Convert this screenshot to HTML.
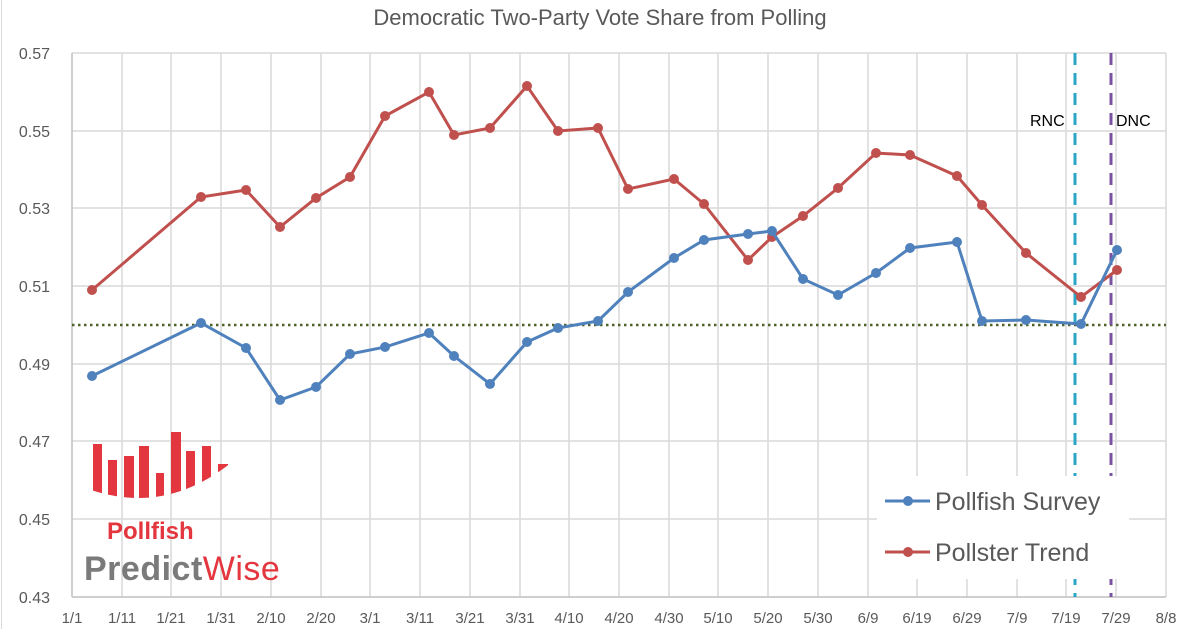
<!DOCTYPE html>
<html><head><meta charset="utf-8"><style>
body{margin:0;background:#fff;}
svg{display:block;font-family:"Liberation Sans",sans-serif;}
</style></head><body>
<svg width="1200" height="629" viewBox="0 0 1200 629" xmlns="http://www.w3.org/2000/svg">
<defs><clipPath id="lc"><path d="M88 420 L232 420 L232 462 Q165 516 88 489 Z"/></clipPath></defs>
<rect width="1200" height="629" fill="#fff"/>
<line x1="1.5" y1="0" x2="1.5" y2="629" stroke="#d9d9d9"/>
<text x="600" y="25" text-anchor="middle" font-size="22" fill="#595959">Democratic Two-Party Vote Share from Polling</text>
<g stroke="#d9d9d9" stroke-width="1.5">
<line x1="72" y1="53" x2="1166" y2="53"/><line x1="72" y1="131" x2="1166" y2="131"/><line x1="72" y1="208" x2="1166" y2="208"/><line x1="72" y1="286" x2="1166" y2="286"/><line x1="72" y1="364" x2="1166" y2="364"/><line x1="72" y1="441" x2="1166" y2="441"/><line x1="72" y1="519" x2="1166" y2="519"/>
<line x1="122" y1="53" x2="122" y2="597"/><line x1="171" y1="53" x2="171" y2="597"/><line x1="221" y1="53" x2="221" y2="597"/><line x1="271" y1="53" x2="271" y2="597"/><line x1="321" y1="53" x2="321" y2="597"/><line x1="370" y1="53" x2="370" y2="597"/><line x1="420" y1="53" x2="420" y2="597"/><line x1="470" y1="53" x2="470" y2="597"/><line x1="520" y1="53" x2="520" y2="597"/><line x1="569" y1="53" x2="569" y2="597"/><line x1="619" y1="53" x2="619" y2="597"/><line x1="669" y1="53" x2="669" y2="597"/><line x1="718" y1="53" x2="718" y2="597"/><line x1="768" y1="53" x2="768" y2="597"/><line x1="818" y1="53" x2="818" y2="597"/><line x1="868" y1="53" x2="868" y2="597"/><line x1="917" y1="53" x2="917" y2="597"/><line x1="967" y1="53" x2="967" y2="597"/><line x1="1017" y1="53" x2="1017" y2="597"/><line x1="1066" y1="53" x2="1066" y2="597"/><line x1="1116" y1="53" x2="1116" y2="597"/><line x1="1166" y1="53" x2="1166" y2="597"/>
</g>
<line x1="72" y1="53" x2="72" y2="597" stroke="#bfbfbf" stroke-width="1.5"/>
<line x1="72" y1="597" x2="1166" y2="597" stroke="#bfbfbf" stroke-width="1.5"/>
<g font-size="16" fill="#595959" text-anchor="end">
<text x="50" y="59">0.57</text><text x="50" y="137">0.55</text><text x="50" y="214">0.53</text><text x="50" y="292">0.51</text><text x="50" y="370">0.49</text><text x="50" y="447">0.47</text><text x="50" y="525">0.45</text><text x="50" y="603">0.43</text>
</g>
<g font-size="15" fill="#595959" text-anchor="middle">
<text x="72" y="623">1/1</text><text x="122" y="623">1/11</text><text x="171" y="623">1/21</text><text x="221" y="623">1/31</text><text x="271" y="623">2/10</text><text x="321" y="623">2/20</text><text x="370" y="623">3/1</text><text x="420" y="623">3/11</text><text x="470" y="623">3/21</text><text x="520" y="623">3/31</text><text x="569" y="623">4/10</text><text x="619" y="623">4/20</text><text x="669" y="623">4/30</text><text x="718" y="623">5/10</text><text x="768" y="623">5/20</text><text x="818" y="623">5/30</text><text x="868" y="623">6/9</text><text x="917" y="623">6/19</text><text x="967" y="623">6/29</text><text x="1017" y="623">7/9</text><text x="1066" y="623">7/19</text><text x="1116" y="623">7/29</text><text x="1166" y="623">8/8</text>
</g>
<line x1="72" y1="325" x2="1166" y2="325" stroke="#4f6228" stroke-width="2.5" stroke-dasharray="2.5,3.5"/>
<line x1="1075" y1="53" x2="1075" y2="597" stroke="#2aa6c4" stroke-width="3" stroke-dasharray="12,8"/>
<line x1="1111" y1="53" x2="1111" y2="597" stroke="#7952a1" stroke-width="3" stroke-dasharray="12,8"/>
<text x="1030" y="126" font-size="16" fill="#000">RNC</text>
<text x="1116" y="126" font-size="16" fill="#000">DNC</text>
<g fill="#e3363f" clip-path="url(#lc)">
<rect x="93" y="444" width="9" height="60"/><rect x="108" y="460" width="9" height="50"/><rect x="124" y="456" width="10" height="50"/><rect x="139" y="446" width="10" height="60"/><rect x="156" y="473" width="8" height="40"/><rect x="171" y="432" width="10" height="70"/><rect x="186" y="451" width="9" height="60"/><rect x="202" y="446" width="9" height="60"/><rect x="218" y="464" width="10" height="40"/>
</g>
<text x="107" y="539" font-size="24" font-weight="bold" fill="#e3363f">Pollfish</text>
<text x="84" y="580" font-size="34" font-weight="bold" fill="#7a7a7a" letter-spacing="0.5">Predict<tspan fill="#e3363f" font-weight="normal">Wise</tspan></text>
<polyline fill="none" stroke="#c0504d" stroke-width="3" points="92,290 201,197 246,190 280,227 316,198 350,177 385,116 429,92 454,135 490,128 527,86 558,131 598,128 628,189 674,179 704,204 748,260 772,237 803,216 838,188 876,153 910,155 957,176 982,205 1026,253 1081,297 1117,270"/>
<g fill="#c0504d">
<circle cx="92" cy="290" r="5"/><circle cx="201" cy="197" r="5"/><circle cx="246" cy="190" r="5"/><circle cx="280" cy="227" r="5"/><circle cx="316" cy="198" r="5"/><circle cx="350" cy="177" r="5"/><circle cx="385" cy="116" r="5"/><circle cx="429" cy="92" r="5"/><circle cx="454" cy="135" r="5"/><circle cx="490" cy="128" r="5"/><circle cx="527" cy="86" r="5"/><circle cx="558" cy="131" r="5"/><circle cx="598" cy="128" r="5"/><circle cx="628" cy="189" r="5"/><circle cx="674" cy="179" r="5"/><circle cx="704" cy="204" r="5"/><circle cx="748" cy="260" r="5"/><circle cx="772" cy="237" r="5"/><circle cx="803" cy="216" r="5"/><circle cx="838" cy="188" r="5"/><circle cx="876" cy="153" r="5"/><circle cx="910" cy="155" r="5"/><circle cx="957" cy="176" r="5"/><circle cx="982" cy="205" r="5"/><circle cx="1026" cy="253" r="5"/><circle cx="1081" cy="297" r="5"/><circle cx="1117" cy="270" r="5"/>
</g>
<polyline fill="none" stroke="#4f81bd" stroke-width="3" points="92,376 201,323 246,348 280,400 316,387 350,354 385,347 429,333 454,356 490,384 527,342 558,328 598,321 628,292 674,258 704,240 748,234 772,231 803,279 838,295 876,273 910,248 957,242 982,321 1026,320 1081,324 1117,250"/>
<g fill="#4f81bd">
<circle cx="92" cy="376" r="5"/><circle cx="201" cy="323" r="5"/><circle cx="246" cy="348" r="5"/><circle cx="280" cy="400" r="5"/><circle cx="316" cy="387" r="5"/><circle cx="350" cy="354" r="5"/><circle cx="385" cy="347" r="5"/><circle cx="429" cy="333" r="5"/><circle cx="454" cy="356" r="5"/><circle cx="490" cy="384" r="5"/><circle cx="527" cy="342" r="5"/><circle cx="558" cy="328" r="5"/><circle cx="598" cy="321" r="5"/><circle cx="628" cy="292" r="5"/><circle cx="674" cy="258" r="5"/><circle cx="704" cy="240" r="5"/><circle cx="748" cy="234" r="5"/><circle cx="772" cy="231" r="5"/><circle cx="803" cy="279" r="5"/><circle cx="838" cy="295" r="5"/><circle cx="876" cy="273" r="5"/><circle cx="910" cy="248" r="5"/><circle cx="957" cy="242" r="5"/><circle cx="982" cy="321" r="5"/><circle cx="1026" cy="320" r="5"/><circle cx="1081" cy="324" r="5"/><circle cx="1117" cy="250" r="5"/>
</g>
<rect x="877" y="476" width="252" height="103" fill="#fff"/>
<line x1="885" y1="501" x2="930" y2="501" stroke="#4f81bd" stroke-width="3"/><circle cx="908" cy="501" r="5" fill="#4f81bd"/>
<text x="935" y="510" font-size="25" fill="#595959">Pollfish Survey</text>
<line x1="885" y1="552" x2="930" y2="552" stroke="#c0504d" stroke-width="3"/><circle cx="908" cy="552" r="5" fill="#c0504d"/>
<text x="935" y="561" font-size="25" fill="#595959">Pollster Trend</text>
</svg>
</body></html>
